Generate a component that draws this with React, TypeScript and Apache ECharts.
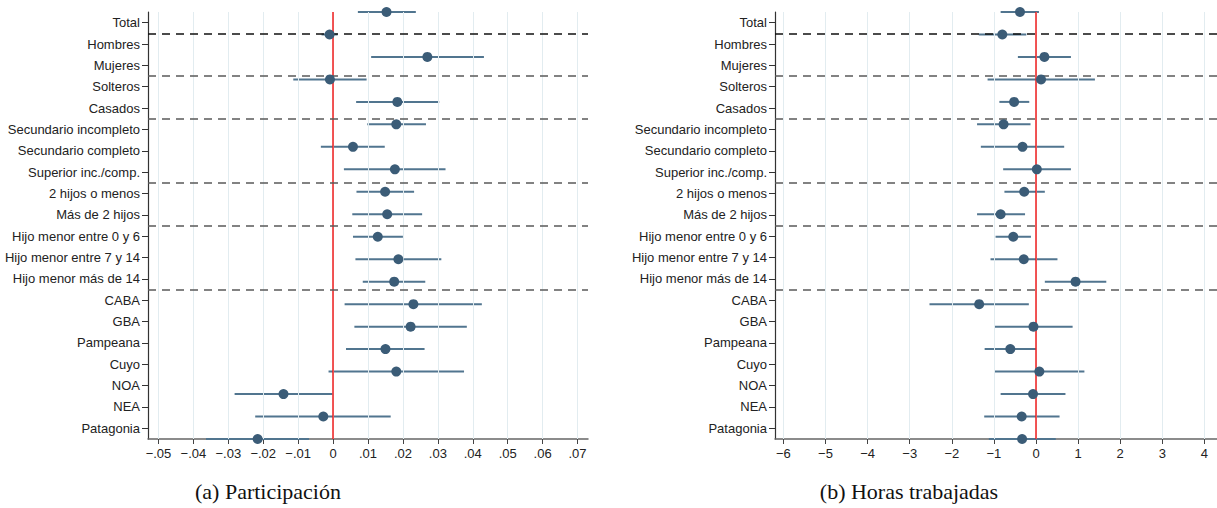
import React, { useEffect, useRef } from "react";
import * as echarts from "echarts";

const categories = [
  "Total", "Hombres", "Mujeres", "Solteros", "Casados",
  "Secundario incompleto", "Secundario completo", "Superior inc./comp.",
  "2 hijos o menos", "Más de 2 hijos", "Hijo menor entre 0 y 6",
  "Hijo menor entre 7 y 14", "Hijo menor más de 14", "CABA", "GBA",
  "Pampeana", "Cuyo", "NOA", "NEA", "Patagonia",
];
const groupBreaks = [1, 3, 5, 8, 10, 13];

const estA = [0.0153, -0.001, 0.027, -0.0009, 0.0184, 0.0181, 0.0057, 0.0177, 0.0149, 0.0155, 0.0128, 0.0187, 0.0175, 0.023, 0.0222, 0.015, 0.0181, -0.0142, -0.0028, -0.0216];
const loA = [0.0071, -0.0033, 0.0109, -0.0114, 0.0066, 0.0098, -0.0035, 0.0031, 0.0067, 0.0055, 0.0057, 0.0064, 0.0085, 0.0033, 0.0061, 0.0037, -0.0013, -0.0282, -0.0223, -0.0364];
const hiA = [0.0237, 0.0013, 0.0432, 0.0096, 0.0304, 0.0266, 0.0148, 0.0322, 0.0232, 0.0255, 0.02, 0.031, 0.0264, 0.0426, 0.0383, 0.0262, 0.0375, -0.0002, 0.0165, -0.0069];

const estB = [-0.38, -0.8, 0.2, 0.12, -0.52, -0.77, -0.32, 0.02, -0.28, -0.84, -0.54, -0.29, 0.94, -1.35, -0.06, -0.61, 0.08, -0.07, -0.34, -0.33];
const loB = [-0.84, -1.36, -0.43, -1.15, -0.87, -1.4, -1.31, -0.78, -0.75, -1.4, -0.96, -1.08, 0.21, -2.53, -0.98, -1.22, -0.98, -0.84, -1.23, -1.12];
const hiB = [0.07, -0.23, 0.83, 1.4, -0.16, -0.13, 0.67, 0.83, 0.21, -0.26, -0.12, 0.51, 1.67, -0.17, 0.87, 0.0, 1.15, 0.7, 0.56, 0.47];

const ticksA = [-0.05, -0.04, -0.03, -0.02, -0.01, 0, 0.01, 0.02, 0.03, 0.04, 0.05, 0.06, 0.07];
const tickLabelsA = ["\u2212.05", "\u2212.04", "\u2212.03", "\u2212.02", "\u2212.01", "0", ".01", ".02", ".03", ".04", ".05", ".06", ".07"];
const ticksB = [-6, -5, -4, -3, -2, -1, 0, 1, 2, 3, 4];
const tickLabelsB = ["\u22126", "\u22125", "\u22124", "\u22123", "\u22122", "\u22121", "0", "1", "2", "3", "4"];

const captions = ["(a) Participación", "(b) Horas trabajadas"];

const LABEL_FONT = "'Liberation Sans Narrow', 'Liberation Sans', Arial, sans-serif";
const DOT = "#3b5c77";
const CI = "#51758f";

function buildPanel(g: number, est: number[], lo: number[], hi: number[], ticks: number[], tickLabels: string[], min: number, max: number, left: number, width: number) {
  const grid = { left, width, top: 12, height: 427 };
  const xAxis = {
    type: "value", gridIndex: g, min, max, position: "bottom",
    splitLine: { show: false },
    axisLine: { show: true, onZero: false, lineStyle: { color: "#666", width: 1.5 } },
    axisTick: { show: true, customValues: ticks, length: 5, lineStyle: { color: "#444" } },
    axisLabel: {
      customValues: ticks, fontSize: 13, color: "#222", margin: 8, fontFamily: LABEL_FONT,
      formatter: (v: number) => {
        const i = ticks.findIndex((t) => Math.abs(t - v) < 1e-9);
        return i >= 0 ? tickLabels[i] : "";
      },
    },
  };
  const yAxes = [
    {
      type: "category", gridIndex: g, data: categories, inverse: true, boundaryGap: true, position: "left",
      axisLine: { show: true, onZero: false, lineStyle: { color: "#333", width: 1.2 } },
      axisTick: { show: true, alignWithLabel: true, length: 6, lineStyle: { color: "#333" } },
      axisLabel: { fontSize: 13, color: "#222", margin: 8, fontFamily: LABEL_FONT },
      splitLine: { show: false },
    },
    { type: "value", gridIndex: g, min: 0, max: categories.length - 1, inverse: true, show: false },
    { type: "value", gridIndex: g, min: 0, max: categories.length, inverse: true, show: false },
  ];
  const yBase = g * 3;
  const series = [
    {
      type: "line", xAxisIndex: g, yAxisIndex: yBase + 1, data: [], z: 1,
      markLine: {
        silent: true, symbol: "none", label: { show: false },
        lineStyle: { color: "#e2ecf0", width: 1, type: "solid" },
        data: ticks.map((t) => ({ xAxis: t })),
      },
    },
    {
      type: "line", xAxisIndex: g, yAxisIndex: yBase + 1, data: [], z: 2,
      markLine: {
        silent: true, symbol: "none", label: { show: false },
        lineStyle: { color: "#f01e1e", width: 1.5, type: "solid" },
        data: [{ xAxis: 0 }],
      },
    },
    {
      type: "line", xAxisIndex: g, yAxisIndex: yBase + 2, data: [], z: 3,
      markLine: {
        silent: true, symbol: "none", label: { show: false },
        lineStyle: { color: "#5a5a5a", width: 1.5, type: [8, 6] },
        data: groupBreaks.map((b, i) => ({ yAxis: b, lineStyle: { color: i === 0 ? "#111" : "#5a5a5a" } })),
      },
    },
    {
      type: "custom", xAxisIndex: g, yAxisIndex: yBase + 1, z: 4,
      data: lo.map((l, i) => [l, hi[i], i]),
      encode: { x: [0, 1], y: 2 },
      renderItem: (_p: any, api: any) => {
        const a = api.coord([api.value(0), api.value(2)]);
        const b = api.coord([api.value(1), api.value(2)]);
        return { type: "line", shape: { x1: a[0], y1: a[1], x2: b[0], y2: b[1] }, style: { stroke: CI, lineWidth: 2 } };
      },
    },
    {
      type: "scatter", xAxisIndex: g, yAxisIndex: yBase + 1, z: 5,
      symbolSize: 10, itemStyle: { color: DOT, opacity: 1 },
      data: est.map((v, i) => [v, i]),
    },
  ];
  return { grid, xAxis, yAxes, series };
}

export default function App() {
  const ref = useRef<HTMLDivElement>(null);
  useEffect(() => {
    if (!ref.current) return;
    const chart = echarts.init(ref.current, undefined, { renderer: "svg" });
    const pA = buildPanel(0, estA, loA, hiA, ticksA, tickLabelsA, -0.053, 0.073, 148, 440);
    const pB = buildPanel(1, estB, loB, hiB, ticksB, tickLabelsB, -6.2, 4.3, 775, 442);
    chart.setOption({
      animation: false,
      backgroundColor: "#fff",
      grid: [pA.grid, pB.grid],
      xAxis: [pA.xAxis, pB.xAxis],
      yAxis: [...pA.yAxes, ...pB.yAxes],
      series: [...pA.series, ...pB.series],
      graphic: [
        { type: "text", x: 268, y: 491, style: { text: captions[0], font: "22px 'Liberation Serif', serif", fill: "#111", textAlign: "center", textVerticalAlign: "middle" } },
        { type: "text", x: 909, y: 491, style: { text: captions[1], font: "22px 'Liberation Serif', serif", fill: "#111", textAlign: "center", textVerticalAlign: "middle" } },
      ],
    });
    return () => chart.dispose();
  }, []);
  return <div ref={ref} style={{ position: "fixed", left: 0, top: 0, width: 1217, height: 508, background: "#fff" }} />;
}
